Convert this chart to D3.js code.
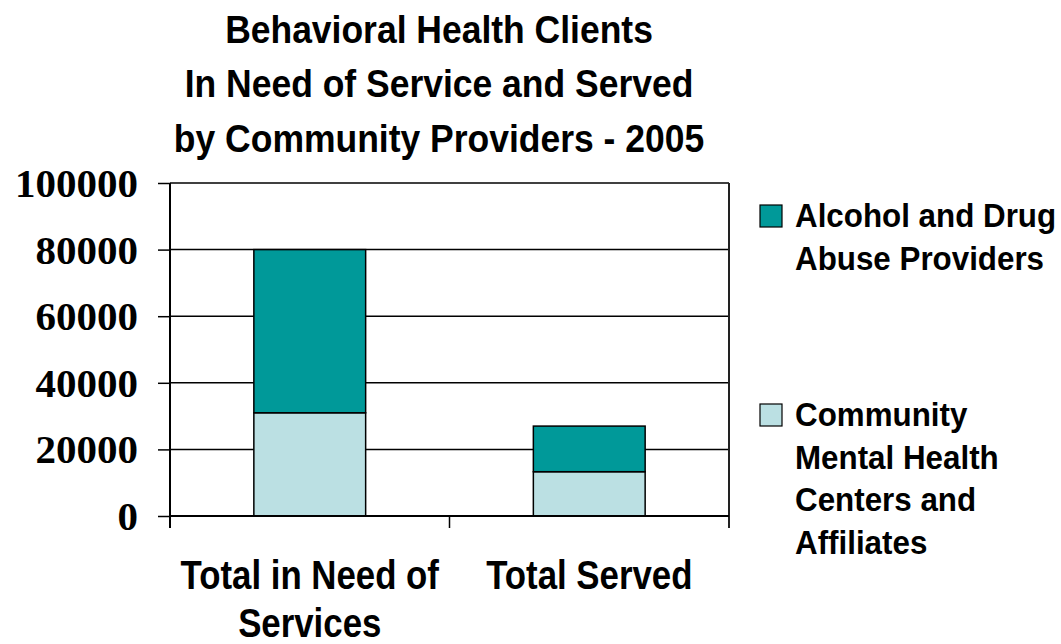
<!DOCTYPE html>
<html>
<head>
<meta charset="utf-8">
<script src="https://cdn.jsdelivr.net/npm/d3@7"></script>
<style>
  html, body { margin: 0; padding: 0; background: #ffffff; }
  svg { display: block; }
  .sans { font-family: "Liberation Sans", Arial, Helvetica, sans-serif; font-weight: bold; fill: #000; }
  .serif { font-family: "Liberation Serif", "Times New Roman", serif; font-weight: bold; }
</style>
</head>
<body>
<svg id="chart" width="1061" height="644"></svg>
<script>
// Categories and stacked series (clients per category)
const categories = ["Total in Need of Services", "Total Served"];
const categoryLines = [["Total in Need of", "Services"], ["Total Served"]];
const mentalHealthCenters = [31000, 13300];
const alcoholDrugProviders = [49000, 13700];
const seriesNames = ["Community Mental Health Centers and Affiliates", "Alcohol and Drug Abuse Providers"];
const yTickValues = [0, 20000, 40000, 60000, 80000, 100000];
const titleLines = ["Behavioral Health Clients", "In Need of Service and Served", "by Community Providers - 2005"];
const legendEntries = [
  { key: "alcohol", lines: ["Alcohol and Drug", "Abuse Providers"] },
  { key: "mental", lines: ["Community", "Mental Health", "Centers and", "Affiliates"] }
];

const colors = { mental: "#bbe0e3", alcohol: "#009999" };

const svg = d3.select("#chart");
const plot = { left: 170, right: 729, top: 183, bottom: 516 };

const y = d3.scaleLinear().domain([0, 100000]).range([plot.bottom, plot.top]);
const x = d3.scaleBand().domain(categories).range([plot.left, plot.right]).padding(0);
const barFrac = 0.4;

// Stack the two series
const rows = categories.map((c, i) => ({ cat: c, mental: mentalHealthCenters[i], alcohol: alcoholDrugProviders[i] }));
const stack = d3.stack().keys(["mental", "alcohol"]);
const layers = stack(rows);

// Horizontal gridlines
svg.append("g")
  .selectAll("line")
  .data(yTickValues)
  .join("line")
  .attr("x1", plot.left).attr("x2", plot.right)
  .attr("y1", d => y(d)).attr("y2", d => y(d))
  .attr("stroke", "#000").attr("stroke-width", 1.5);

// Right border of plot area
svg.append("line")
  .attr("x1", plot.right).attr("x2", plot.right)
  .attr("y1", plot.top).attr("y2", plot.bottom + 12)
  .attr("stroke", "#222").attr("stroke-width", 2);

// Bars
svg.append("g")
  .selectAll("g")
  .data(layers)
  .join("g")
  .attr("fill", d => colors[d.key])
  .selectAll("rect")
  .data(d => d)
  .join("rect")
  .attr("x", d => x(d.data.cat) + x.bandwidth() * (1 - barFrac) / 2)
  .attr("width", x.bandwidth() * barFrac)
  .attr("y", d => y(d[1]))
  .attr("height", d => y(d[0]) - y(d[1]))
  .attr("stroke", "#000")
  .attr("stroke-width", 1.5);

// Y axis
const yAxis = d3.axisLeft(y).tickValues(yTickValues).tickSize(12).tickPadding(20).tickFormat(d3.format("d"));
const gy = svg.append("g").attr("transform", `translate(${plot.left},0)`).call(yAxis);
gy.select(".domain").remove();
gy.selectAll(".tick line").attr("stroke", "#000").attr("stroke-width", 1.5);
gy.selectAll(".tick text")
  .attr("class", "serif")
  .attr("font-size", 41)
  .attr("fill", "#000")
  .attr("dy", "0.33em");
svg.append("line")
  .attr("x1", plot.left).attr("x2", plot.left)
  .attr("y1", plot.top).attr("y2", plot.bottom + 12)
  .attr("stroke", "#000").attr("stroke-width", 2);

// X axis baseline and category boundary ticks
svg.append("line")
  .attr("x1", plot.left).attr("x2", plot.right)
  .attr("y1", y(0)).attr("y2", y(0))
  .attr("stroke", "#000").attr("stroke-width", 2);
const boundaries = categories.map(c => x(c)).concat([x(categories[categories.length - 1]) + x.bandwidth()]);
svg.append("g")
  .selectAll("line")
  .data(boundaries.slice(1, -1))
  .join("line")
  .attr("x1", d => d).attr("x2", d => d)
  .attr("y1", y(0)).attr("y2", y(0) + 12)
  .attr("stroke", "#000").attr("stroke-width", 1.5);

// Category labels
const catLabel = svg.append("g")
  .selectAll("g")
  .data(categories)
  .join("g")
  .attr("transform", d => `translate(${x(d) + x.bandwidth() / 2},589) scale(0.87,1)`);
catLabel.selectAll("text")
  .data((d, i) => categoryLines[i])
  .join("text")
  .attr("class", "sans")
  .attr("font-size", 40)
  .attr("text-anchor", "middle")
  .attr("y", (d, i) => i * 48)
  .text(d => d);

// Title
const title = svg.append("g").attr("transform", "translate(439,42.5) scale(0.91,1)");
title.selectAll("text")
  .data(titleLines)
  .join("text")
  .attr("class", "sans")
  .attr("font-size", 39)
  .attr("text-anchor", "middle")
  .attr("y", (d, i) => i * 54.6)
  .text(d => d);

// Legend
const legendTop = [227, 426];
const legend = svg.append("g")
  .selectAll("g")
  .data(legendEntries)
  .join("g")
  .attr("transform", (d, i) => `translate(760,${legendTop[i]})`);
legend.append("rect")
  .attr("x", 0).attr("y", -22)
  .attr("width", 22).attr("height", 22)
  .attr("fill", d => colors[d.key])
  .attr("stroke", "#000").attr("stroke-width", 1.2);
const legendText = legend.append("g").attr("transform", "translate(35,0) scale(0.95,1)");
legendText.selectAll("text")
  .data(d => d.lines)
  .join("text")
  .attr("class", "sans")
  .attr("font-size", 33)
  .attr("y", (d, i) => i * 42.6)
  .text(d => d);
</script>
</body>
</html>
